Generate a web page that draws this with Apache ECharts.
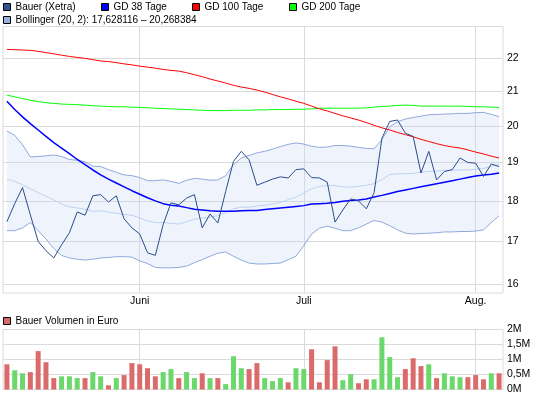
<!DOCTYPE html>
<html>
<head>
<meta charset="utf-8">
<script src="https://cdn.jsdelivr.net/npm/echarts@6/dist/echarts.min.js"></script>
<style>
html, body { margin: 0; padding: 0; background: #fff; }
#chart { width: 545px; height: 398px; }
</style>
</head>
<body>
<div id="chart"></div>
<script>
// Handelstage
var dates = [
  '09.05.2012', '10.05.2012', '11.05.2012', '14.05.2012', '15.05.2012', '16.05.2012', '17.05.2012', '18.05.2012',
  '21.05.2012', '22.05.2012', '23.05.2012', '24.05.2012', '25.05.2012', '28.05.2012', '29.05.2012', '30.05.2012', '31.05.2012',
  '01.06.2012', '04.06.2012', '05.06.2012', '06.06.2012', '07.06.2012', '08.06.2012', '11.06.2012', '12.06.2012',
  '13.06.2012', '14.06.2012', '15.06.2012', '18.06.2012', '19.06.2012', '20.06.2012', '21.06.2012', '22.06.2012',
  '25.06.2012', '26.06.2012', '27.06.2012', '28.06.2012', '29.06.2012',
  '02.07.2012', '03.07.2012', '04.07.2012', '05.07.2012', '06.07.2012', '09.07.2012', '10.07.2012', '11.07.2012',
  '12.07.2012', '13.07.2012', '16.07.2012', '17.07.2012', '18.07.2012', '19.07.2012', '20.07.2012', '23.07.2012',
  '24.07.2012', '25.07.2012', '26.07.2012', '27.07.2012', '30.07.2012', '31.07.2012',
  '01.08.2012', '02.08.2012', '03.08.2012', '06.08.2012'
];
var monthDates = ['01.06.2012', '02.07.2012', '01.08.2012'];
var monthLabels = ['Juni', 'Juli', 'Aug.'];
var priceTicks = [16, 17, 18, 19, 20, 21, 22];

// Kurs Xetra
var price = [
  17.48, 17.93, 18.34, 17.65, 17.00, 16.78, 16.61, 16.92, 17.21, 17.72,
  17.64, 18.13, 18.16, 17.97, 18.13, 17.55, 17.33, 17.18, 16.73, 16.67,
  17.41, 17.95, 17.90, 18.07, 18.16, 17.33, 17.67, 17.45, 18.24, 19.03,
  19.30, 19.07, 18.40, 18.48, 18.56, 18.62, 18.59, 18.81, 18.83, 18.60,
  18.59, 18.48, 17.47, 17.77, 18.05, 18.00, 17.80, 18.21, 19.66, 20.13,
  20.17, 19.80, 19.71, 18.72, 19.30, 18.54, 18.76, 18.81, 19.12, 19.00,
  18.98, 18.63, 18.96, 18.89
];
// Bollinger (20, 2)
var bbUpper = [
  19.86, 19.74, 19.48, 19.15, 19.16, 19.18, 19.20, 19.16, 19.08, 19.06,
  19.02, 18.90, 18.89, 18.81, 18.74, 18.67, 18.65, 18.60, 18.52, 18.52,
  18.54, 18.50, 18.45, 18.53, 18.58, 18.56, 18.53, 18.54, 18.65, 18.94,
  19.12, 19.19, 19.26, 19.30, 19.36, 19.43, 19.49, 19.53, 19.50, 19.44,
  19.41, 19.42, 19.46, 19.46, 19.44, 19.41, 19.38, 19.37, 19.62, 19.98,
  20.12, 20.20, 20.24, 20.28, 20.32, 20.33, 20.34, 20.35, 20.36, 20.36,
  20.38, 20.39, 20.33, 20.268384
];
var bbLower = [
  17.26, 17.26, 17.33, 17.46, 17.26, 17.06, 16.83, 16.67, 16.61, 16.58,
  16.56, 16.58, 16.61, 16.62, 16.64, 16.64, 16.63, 16.54, 16.48, 16.39,
  16.38, 16.38, 16.39, 16.42, 16.50, 16.57, 16.65, 16.72, 16.75, 16.65,
  16.56, 16.49, 16.47, 16.47, 16.48, 16.49, 16.57, 16.65, 16.90, 17.18,
  17.32, 17.37, 17.32, 17.26, 17.26, 17.33, 17.42, 17.51, 17.47, 17.38,
  17.28, 17.20, 17.18, 17.19, 17.20, 17.21, 17.23, 17.23, 17.24, 17.24,
  17.25, 17.28, 17.46, 17.628116
];
var bbMiddle = [
  18.56, 18.50, 18.41, 18.31, 18.21, 18.12, 18.02, 17.92, 17.85, 17.82,
  17.79, 17.74, 17.75, 17.72, 17.69, 17.66, 17.64, 17.57, 17.50, 17.46,
  17.46, 17.44, 17.42, 17.48, 17.54, 17.57, 17.59, 17.63, 17.70, 17.80,
  17.84, 17.84, 17.87, 17.89, 17.92, 17.96, 18.03, 18.09, 18.20, 18.31,
  18.37, 18.40, 18.39, 18.36, 18.35, 18.37, 18.40, 18.44, 18.55, 18.68,
  18.70, 18.70, 18.71, 18.74, 18.76, 18.77, 18.79, 18.79, 18.80, 18.80,
  18.82, 18.84, 18.90, 18.95
];
// gleitende Durchschnitte
var gd38 = [
  20.71, 20.47, 20.26, 20.07, 19.89, 19.71, 19.54, 19.39, 19.24, 19.08,
  18.94, 18.80, 18.67, 18.56, 18.46, 18.36, 18.26, 18.17, 18.08, 18.00,
  17.93, 17.89, 17.87, 17.83, 17.79, 17.77, 17.75, 17.74, 17.74, 17.74,
  17.75, 17.76, 17.76, 17.78, 17.80, 17.82, 17.84, 17.86, 17.88, 17.92,
  17.93, 17.94, 17.96, 17.99, 18.01, 18.02, 18.05, 18.10, 18.14, 18.19,
  18.24, 18.28, 18.32, 18.36, 18.40, 18.44, 18.48, 18.52, 18.56, 18.60,
  18.64, 18.67, 18.69, 18.72
];
var gd100 = [
  22.28, 22.27, 22.26, 22.25, 22.22, 22.18, 22.14, 22.10, 22.06, 22.03,
  22.00, 21.96, 21.92, 21.90, 21.87, 21.83, 21.80, 21.76, 21.73, 21.70,
  21.66, 21.63, 21.61, 21.56, 21.50, 21.44, 21.37, 21.31, 21.25, 21.18,
  21.13, 21.09, 21.04, 20.98, 20.91, 20.84, 20.78, 20.71, 20.65, 20.57,
  20.49, 20.43, 20.36, 20.29, 20.23, 20.17, 20.10, 20.02, 19.95, 19.89,
  19.82, 19.76, 19.70, 19.63, 19.57, 19.51, 19.46, 19.42, 19.39, 19.34,
  19.28, 19.23, 19.17, 19.12
];
var gd200 = [
  20.89, 20.84, 20.79, 20.74, 20.70, 20.67, 20.65, 20.63, 20.62, 20.61,
  20.60, 20.58, 20.57, 20.56, 20.55, 20.55, 20.54, 20.53, 20.52, 20.51,
  20.50, 20.49, 20.48, 20.47, 20.46, 20.45, 20.44, 20.44, 20.44, 20.45,
  20.45, 20.45, 20.46, 20.46, 20.47, 20.47, 20.47, 20.48, 20.48, 20.49,
  20.51, 20.51, 20.51, 20.51, 20.51, 20.51, 20.52, 20.54, 20.56, 20.57,
  20.59, 20.60, 20.59, 20.57, 20.57, 20.57, 20.57, 20.57, 20.57, 20.56,
  20.55, 20.55, 20.54, 20.53
];
// Volumen in Mio. Euro, 1 = Kurs gestiegen (gruen)
var volume = [
  0.84, 0.64, 0.54, 0.58, 1.28, 0.91, 0.38, 0.44, 0.44, 0.38,
  0.38, 0.58, 0.44, 0.14, 0.38, 0.48, 0.88, 0.84, 0.71, 0.44,
  0.58, 0.68, 0.38, 0.58, 0.38, 0.54, 0.38, 0.38, 0.18, 1.11,
  0.71, 0.68, 0.88, 0.38, 0.28, 0.38, 0.24, 0.71, 0.68, 1.34,
  0.24, 0.98, 1.44, 0.31, 0.51, 0.21, 0.34, 0.34, 1.74, 1.08,
  0.41, 0.68, 1.04, 0.78, 0.84, 0.38, 0.54, 0.44, 0.41, 0.41,
  0.48, 0.34, 0.54, 0.54
];
var volUp = [
  0, 1, 1, 0, 0, 0, 0, 1, 1, 1,
  0, 1, 1, 0, 1, 0, 0, 0, 0, 0,
  1, 1, 0, 1, 1, 0, 1, 0, 1, 1,
  1, 0, 0, 1, 1, 1, 0, 1, 1, 0,
  0, 0, 0, 1, 1, 0, 0, 1, 1, 1,
  1, 0, 0, 0, 1, 0, 1, 1, 1, 0,
  0, 0, 1, 0
];

var font = '"Liberation Sans", Arial, sans-serif';
var gridColor = '#dadada';
var bbName = 'Bollinger (20, 2): 17,628116 \u2013 20,268384';

var chart = echarts.init(document.getElementById('chart'), null, {renderer: 'canvas'});

function legendAt(name, color, left, top) {
  return {
    data: [{name: name, icon: 'rect', itemStyle: {color: color, borderColor: '#000', borderWidth: 1}}],
    left: left, top: top, padding: 0,
    itemWidth: 7, itemHeight: 7, selectedMode: false,
    textStyle: {fontFamily: font, fontSize: 10, color: '#000', lineHeight: 12}
  };
}

// Gitterlinien + Achsenbeschriftung rechts
var hLines = priceTicks.map(function (v) {
  return {yAxis: v, label: {show: true, position: 'end', distance: 4, formatter: String(v),
    fontFamily: font, fontSize: 10.5, color: '#000'}};
});
var vLines = monthDates.map(function (d) {
  return {xAxis: d, label: {show: false}};
});

var option2 = {
  animation: false,
  legend: [
    legendAt('Bauer (Xetra)', '#2e5590', 3, 1),
    legendAt('GD 38 Tage', '#0000ff', 101, 1),
    legendAt('GD 100 Tage', '#ff0000', 192, 1),
    legendAt('GD 200 Tage', '#00ff00', 289, 1),
    legendAt(bbName, '#98b0e0', 3, 14),
    legendAt('Bauer Volumen in Euro', '#d96a6a', 3, 315)
  ],
  grid: [
    {left: 3, right: 42, top: 26.5, height: 266.5, show: true, borderColor: gridColor, borderWidth: 1},
    {left: 3, right: 42, top: 329.5, height: 60, show: true, borderColor: gridColor, borderWidth: 1}
  ],
  xAxis: [
    {
      type: 'category', gridIndex: 0, data: dates, boundaryGap: true,
      axisLine: {show: false}, axisTick: {show: false}, splitLine: {show: false},
      axisLabel: {
        interval: function (i, v) { return monthDates.indexOf(v) >= 0; },
        formatter: function (v) { var k = monthDates.indexOf(v); return k >= 0 ? monthLabels[k] : ''; },
        margin: 3, fontFamily: font, fontSize: 10.5, color: '#000'
      }
    },
    {
      type: 'category', gridIndex: 1, data: dates, boundaryGap: true,
      axisLine: {show: false}, axisTick: {show: false}, axisLabel: {show: false}, splitLine: {show: false}
    }
  ],
  yAxis: [
    {
      type: 'log', logBase: 10, gridIndex: 0, min: 15.81, max: 23.01,
      axisLine: {show: false}, axisTick: {show: false}, axisLabel: {show: false}, splitLine: {show: false}
    },
    {
      type: 'value', gridIndex: 1, position: 'right', min: 0, max: 2, interval: 0.5,
      axisLine: {show: false}, axisTick: {show: false},
      splitLine: {lineStyle: {color: gridColor, width: 1}},
      axisLabel: {
        formatter: function (v) { return String(v).replace('.', ',') + 'M'; },
        margin: 4, fontFamily: font, fontSize: 10.5, color: '#000'
      }
    }
  ],
  series: [
    {
      name: 'bbLower', type: 'line', stack: 'bb', data: bbLower,
      symbol: 'none', silent: true, z: 2,
      lineStyle: {color: '#8fa8dc', width: 1},
      markLine: {
        silent: true, symbol: 'none', z: 1, animation: false,
        lineStyle: {color: gridColor, width: 1, type: 'solid'},
        data: hLines.concat(vLines)
      }
    },
    {
      name: bbName, type: 'line', stack: 'bb',
      data: bbUpper.map(function (u, i) { return +(u - bbLower[i]).toFixed(6); }),
      symbol: 'none', silent: true, z: 2,
      lineStyle: {color: '#8fa8dc', width: 1},
      areaStyle: {color: 'rgba(196, 214, 244, 0.4)'}
    },
    {
      name: 'bbMiddle', type: 'line', data: bbMiddle, symbol: 'none', silent: true, z: 3,
      lineStyle: {color: '#bdd1f3', width: 1}
    },
    {
      name: 'GD 200 Tage', type: 'line', data: gd200, symbol: 'none', silent: true, z: 4,
      lineStyle: {color: '#00ff00', width: 1}
    },
    {
      name: 'GD 100 Tage', type: 'line', data: gd100, symbol: 'none', silent: true, z: 4,
      lineStyle: {color: '#ff0000', width: 1}
    },
    {
      name: 'GD 38 Tage', type: 'line', data: gd38, symbol: 'none', silent: true, z: 5,
      lineStyle: {color: '#0000ff', width: 1.5}
    },
    {
      name: 'Bauer (Xetra)', type: 'line', data: price, symbol: 'none', silent: true, z: 6,
      lineStyle: {color: '#2a4b8d', width: 1}
    },
    {
      name: 'Bauer Volumen in Euro', type: 'bar', xAxisIndex: 1, yAxisIndex: 1,
      data: volume, barWidth: 5, silent: true,
      itemStyle: {
        color: function (p) { return volUp[p.dataIndex] ? '#6ad86a' : '#db6b6b'; }
      },
      markLine: {
        silent: true, symbol: 'none', z: 1, animation: false,
        lineStyle: {color: gridColor, width: 1, type: 'solid'},
        data: vLines
      }
    }
  ]
};
chart.setOption(option2);
</script>
</body>
</html>
